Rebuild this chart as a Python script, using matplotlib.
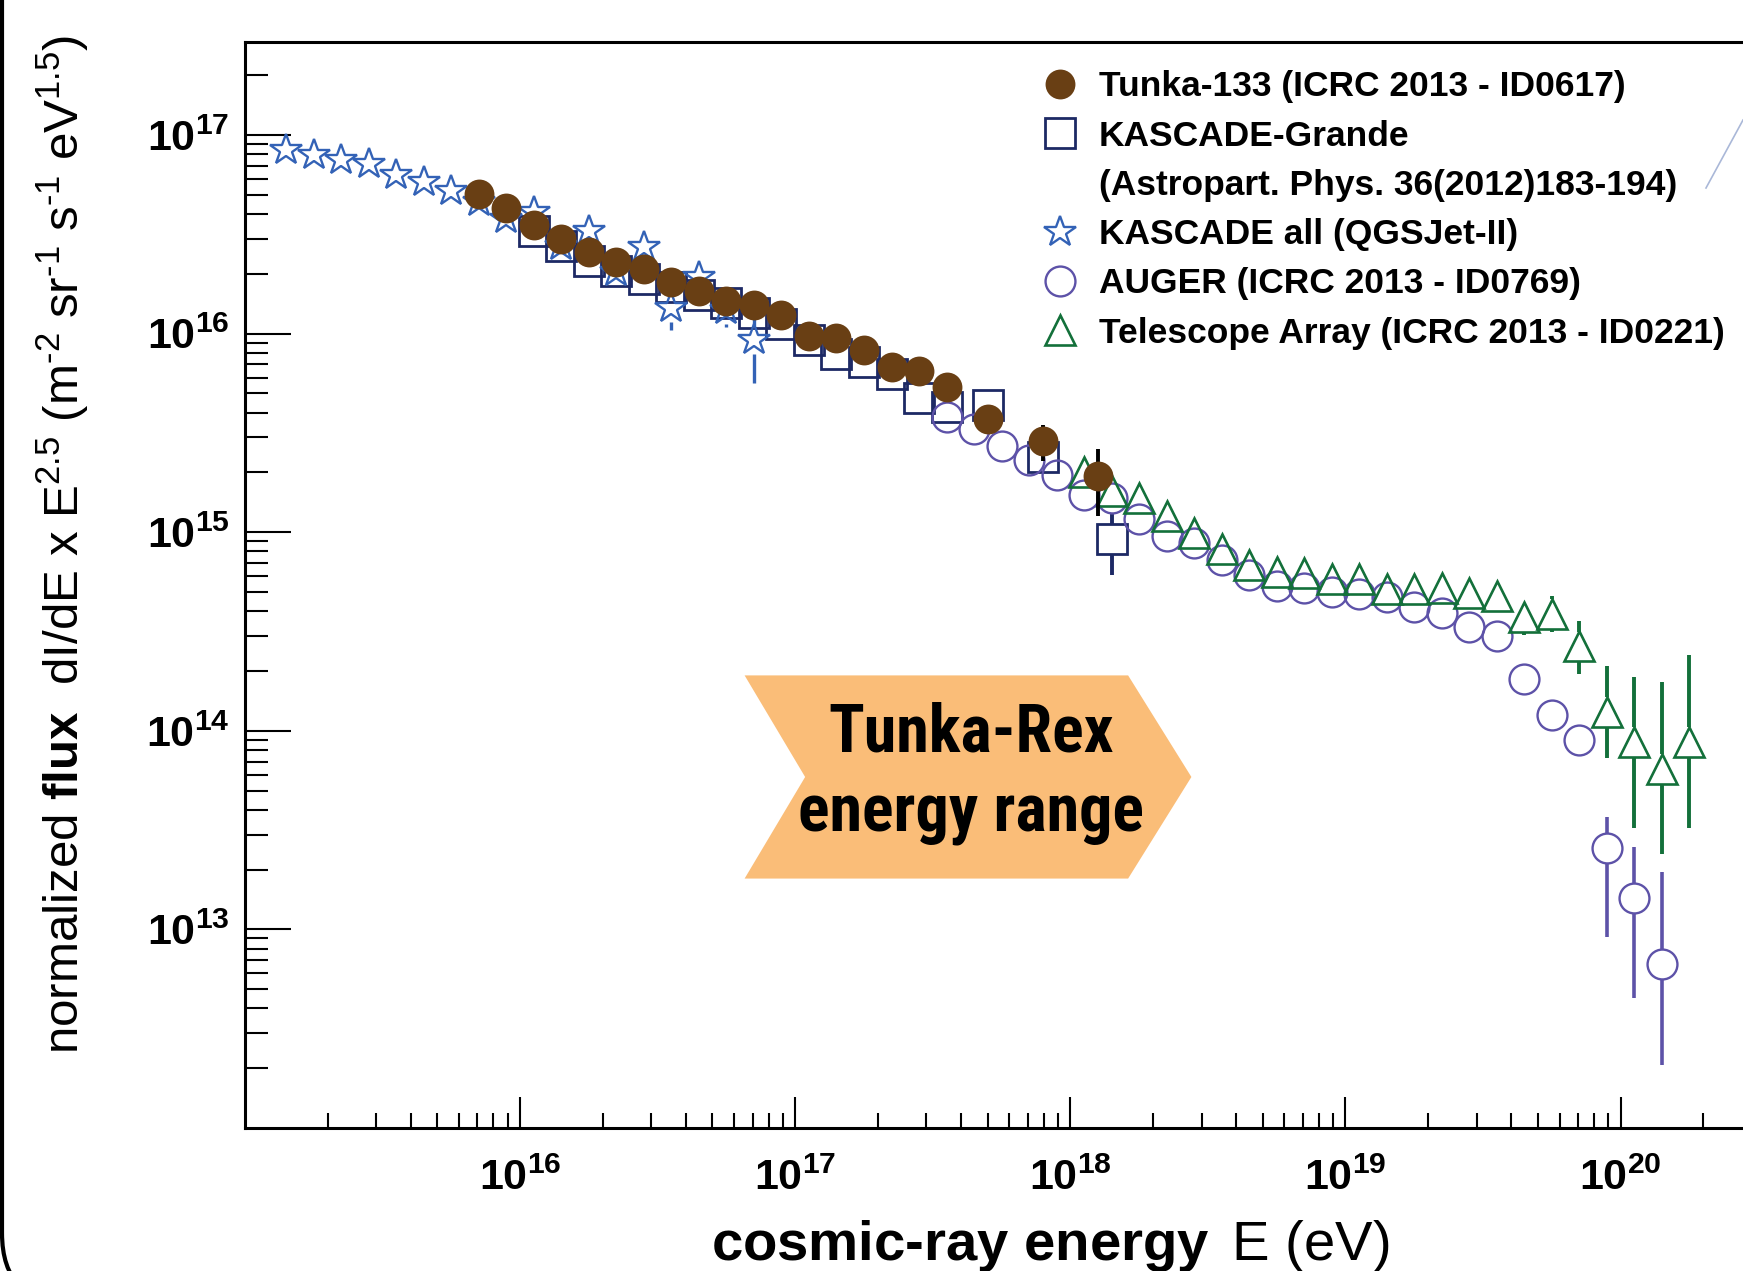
import matplotlib

matplotlib.use("Agg")
import matplotlib.font_manager as fm  # noqa: E402
import matplotlib.pyplot as plt  # noqa: E402
import numpy as np  # noqa: E402
from matplotlib.lines import Line2D  # noqa: E402
from matplotlib.patches import FancyBboxPatch, Polygon  # noqa: E402
from matplotlib.ticker import FixedLocator, FuncFormatter, LogLocator, NullFormatter  # noqa: E402

# log10 of energy (eV) and of normalized flux
tunka_logE = [15.85, 15.95, 16.05, 16.15, 16.25, 16.35, 16.45, 16.55, 16.65, 16.75, 16.85,
              16.95, 17.05, 17.15, 17.25, 17.35, 17.45, 17.55, 17.70, 17.90, 18.10]
tunka_logF = [16.702, 16.632, 16.547, 16.475, 16.413, 16.359, 16.326, 16.262, 16.215, 16.166, 16.145,
              16.092, 15.990, 15.978, 15.920, 15.834, 15.814, 15.733, 15.569, 15.458, 15.281]
tunka_err_up = [0] * 19 + [0.08, 0.14]
tunka_err_lo = [0] * 19 + [0.10, 0.20]

kg_logE = [16.05, 16.15, 16.25, 16.35, 16.45, 16.55, 16.65, 16.75, 16.85, 16.95,
           17.05, 17.15, 17.25, 17.35, 17.45, 17.55, 17.70, 17.90, 18.15]
kg_logF = [16.518, 16.443, 16.366, 16.317, 16.275, 16.234, 16.193, 16.155, 16.104, 16.046,
           15.968, 15.898, 15.858, 15.798, 15.676, 15.630, 15.643, 15.380, 14.967]
kg_err_up = [0] * 18 + [0.13]
kg_err_lo = [0] * 18 + [0.18]

kascade_logE = [15.15, 15.25, 15.35, 15.45, 15.55, 15.65, 15.75, 15.85, 15.95,
                16.05, 16.15, 16.25, 16.35, 16.45, 16.55, 16.65, 16.75, 16.85]
kascade_logF = [16.925, 16.899, 16.874, 16.854, 16.799, 16.765, 16.718, 16.664, 16.576,
                16.610, 16.441, 16.515, 16.312, 16.434, 16.128, 16.284, 16.119, 15.969]
kascade_err_up = [0] * 14 + [0.08, 0, 0.06, 0.12]
kascade_err_lo = [0] * 14 + [0.11, 0, 0.085, 0.22]

auger_logE = [17.55, 17.65, 17.75, 17.85, 17.95, 18.05, 18.15, 18.25, 18.35, 18.45, 18.55, 18.65, 18.75, 18.85,
              18.95, 19.05, 19.15, 19.25, 19.35, 19.45, 19.55, 19.65, 19.75, 19.85, 19.95, 20.05, 20.15]
auger_logF = [15.579, 15.519, 15.432, 15.365, 15.286, 15.189, 15.172, 15.068, 14.982, 14.945, 14.858, 14.786,
              14.731, 14.719, 14.699, 14.691, 14.672, 14.623, 14.593, 14.523, 14.476, 14.262, 14.082, 13.956,
              13.408, 13.156, 12.827]
auger_err_up = [0] * 24 + [0.16, 0.26, 0.46]
auger_err_lo = [0] * 24 + [0.445, 0.50, 0.51]

ta_logE = [18.05, 18.15, 18.25, 18.35, 18.45, 18.55, 18.65, 18.75, 18.85, 18.95, 19.05, 19.15,
           19.25, 19.35, 19.45, 19.55, 19.65, 19.75, 19.85, 19.95, 20.05, 20.15, 20.25]
ta_logF = [15.302, 15.210, 15.170, 15.084, 14.996, 14.917, 14.835, 14.799, 14.796, 14.762, 14.766, 14.713,
           14.716, 14.719, 14.696, 14.677, 14.573, 14.590, 14.425, 14.094, 13.943, 13.808, 13.943]
ta_err_up = [0] * 17 + [0.09, 0.13, 0.23, 0.33, 0.44, 0.44]
ta_err_lo = [0] * 16 + [0.09, 0.09, 0.14, 0.23, 0.43, 0.43, 0.43]

# Tunka-Rex energy range (log10 eV) and the vertical extent of the arrow (log10 flux)
rex_logE = (16.816, 18.21)
rex_arrow_depth = 0.23
rex_logF = (13.256, 14.279)

legend_labels = [
    "Tunka-133 (ICRC 2013 - ID0617)",
    "KASCADE-Grande",
    "(Astropart. Phys. 36(2012)183-194)",
    "KASCADE all (QGSJet-II)",
    "AUGER (ICRC 2013 - ID0769)",
    "Telescope Array (ICRC 2013 - ID0221)",
]

X_LIM = (1e15, 10 ** 20.445)
Y_LIM = (1e12, 2.93e17)

BROWN = "#693f14"
NAVY = "#1d2965"
BLUE = "#3362b6"
PURPLE = "#5d52a8"
GREEN = "#13703a"
ORANGE = "#fabd78"

plt.rcParams["font.family"] = ["Liberation Sans", "DejaVu Sans"]
plt.rcParams["mathtext.fontset"] = "custom"
plt.rcParams["mathtext.rm"] = "Liberation Sans"
plt.rcParams["mathtext.bf"] = "Liberation Sans:bold"
plt.rcParams["mathtext.it"] = "Liberation Sans:italic"
plt.rcParams["mathtext.sf"] = "Liberation Sans"
plt.rcParams["mathtext.default"] = "rm"


def _condensed_bold(size):
    """A narrow bold face for the Tunka-Rex label, if one is installed."""
    names = {f.name for f in fm.fontManager.ttflist}
    for name in ("Liberation Sans Narrow", "Arial Narrow", "Roboto Condensed", "Open Sans Condensed",
                 "Noto Sans Condensed", "DejaVu Sans Condensed"):
        if name in names:
            return fm.FontProperties(family=name, weight="bold", size=size)
    for f in fm.fontManager.ttflist:
        if f.stretch in ("condensed", "semi-condensed", "extra-condensed") and str(f.weight) in ("bold", "700"):
            return fm.FontProperties(fname=f.fname, size=size)
    return None


def _bars(ax, logE, logF, up, lo, gap, color, lw, z):
    # ROOT style: the bar stops at the edge of an open marker
    e = 10 ** np.asarray(logE, float)
    f = np.asarray(logF, float)
    up = np.asarray(up, float)
    lo = np.asarray(lo, float)
    m = up > gap
    ax.vlines(e[m], 10 ** (f[m] + gap), 10 ** (f[m] + up[m]), colors=color, lw=lw, zorder=z)
    m = lo > gap
    ax.vlines(e[m], 10 ** (f[m] - lo[m]), 10 ** (f[m] - gap), colors=color, lw=lw, zorder=z)


fig = plt.figure(figsize=(17.43, 12.71), dpi=100)
ax = fig.add_axes([245 / 1743, 1 - 1128 / 1271, 1 - 245 / 1743, (1128 - 42.3) / 1271])
ax.set_xscale("log")
ax.set_yscale("log")
ax.set_xlim(*X_LIM)
ax.set_ylim(*Y_LIM)

# Tunka-Rex arrow
lo_e, hi_e = rex_logE
lo_f, hi_f = rex_logF
mid_f = (lo_f + hi_f) / 2
arrow = np.array([
    (lo_e, hi_f), (hi_e, hi_f), (hi_e + rex_arrow_depth, mid_f),
    (hi_e, lo_f), (lo_e, lo_f), (lo_e + rex_arrow_depth - 0.01, mid_f),
])
ax.add_patch(Polygon(10 ** arrow, closed=True, facecolor=ORANGE, edgecolor="none", zorder=1))
rex_prop = _condensed_bold(47.5)
if rex_prop is None:
    rex_prop = fm.FontProperties(family="Liberation Sans", weight="bold", size=39)
ax.text(10 ** ((lo_e + hi_e + rex_arrow_depth) / 2 + 0.01), 10 ** (mid_f + 0.015), "Tunka-Rex\nenergy range",
        ha="center", va="center", fontproperties=rex_prop,
        linespacing=80 / (0.92 * rex_prop.get_size_in_points() * 100 / 72), zorder=2)

# data
MS = 21.5
_bars(ax, kg_logE, kg_logF, kg_err_up, kg_err_lo, 0.075, NAVY, 2.8, 3)
ax.plot(10 ** np.array(kg_logE), 10 ** np.array(kg_logF), ls="none", marker="s", ms=MS,
        mfc="none", mec=NAVY, mew=2.0, zorder=3)
_bars(ax, kascade_logE, kascade_logF, kascade_err_up, kascade_err_lo, 0.07, BLUE, 2.4, 4)
ax.plot(10 ** np.array(kascade_logE), 10 ** np.array(kascade_logF), ls="none", marker="*", ms=MS + 2,
        mfc="none", mec=BLUE, mew=1.7, zorder=4)
_bars(ax, auger_logE, auger_logF, auger_err_up, auger_err_lo, 0.075, PURPLE, 2.6, 5)
ax.plot(10 ** np.array(auger_logE), 10 ** np.array(auger_logF), ls="none", marker="o", ms=MS,
        mfc="none", mec=PURPLE, mew=1.7, zorder=5)
_bars(ax, ta_logE, ta_logF, ta_err_up, ta_err_lo, 0.075, GREEN, 2.8, 6)
ax.plot(10 ** np.array(ta_logE), 10 ** np.array(ta_logF), ls="none", marker="^", ms=MS,
        mfc="none", mec=GREEN, mew=1.9, zorder=6)
_bars(ax, tunka_logE, tunka_logF, tunka_err_up, tunka_err_lo, 0.0, "black", 2.8, 7)
ax.plot(10 ** np.array(tunka_logE), 10 ** np.array(tunka_logF), ls="none", marker="o", ms=MS,
        mfc=BROWN, mec=BROWN, mew=0, zorder=8)

# axes, ticks
for side in ("left", "bottom", "top"):
    ax.spines[side].set_linewidth(2.2)
ax.spines["right"].set_visible(False)

fmt = FuncFormatter(lambda v, pos: r"$\mathbf{10^{%d}}$" % round(np.log10(v)))
ax.xaxis.set_major_locator(FixedLocator([1e16, 1e17, 1e18, 1e19, 1e20]))
ax.yaxis.set_major_locator(FixedLocator([1e13, 1e14, 1e15, 1e16, 1e17]))
for axis in (ax.xaxis, ax.yaxis):
    axis.set_major_formatter(fmt)
    axis.set_minor_locator(LogLocator(base=10, subs=np.arange(2, 10), numticks=100))
    axis.set_minor_formatter(NullFormatter())
ax.tick_params(which="both", direction="in", top=False, right=False, width=1.5, labelsize=31)
ax.tick_params(axis="y", which="major", length=33, pad=11)
ax.tick_params(axis="y", which="minor", length=16.5)
ax.tick_params(axis="x", which="major", length=22, pad=22)
ax.tick_params(axis="x", which="minor", length=11)

ax.set_xlabel(r"cosmic-ray energy $\mathrm{\,E\ (eV)}$", fontsize=40.5, weight="bold")
ax.xaxis.label.set_va("baseline")
ax.xaxis.set_label_coords((1050 - 245) / 1498, -(1260 - 1128) / 1085.7)

ax.set_ylabel(r"normalized $\mathbf{flux}$  dI/dE x E$^{2.5}$ (m$^{\text{-}2}$ sr$^{\text{-}1}$ "
              r"s$^{\text{-}1}$ eV$^{1.5}$)", fontsize=35.5)
ax.yaxis.label.set_va("baseline")
ax.yaxis.set_label_coords((78.5 - 245) / 1498, (1128 - 544.5) / 1085.7)

# legend
handles = [
    Line2D([], [], ls="none", marker="o", ms=MS, mfc=BROWN, mec=BROWN, mew=0),
    Line2D([], [], ls="none", marker="s", ms=MS, mfc="none", mec=NAVY, mew=2.0),
    Line2D([], [], ls="none", marker="none"),
    Line2D([], [], ls="none", marker="*", ms=MS + 2, mfc="none", mec=BLUE, mew=1.7),
    Line2D([], [], ls="none", marker="o", ms=MS, mfc="none", mec=PURPLE, mew=1.7),
    Line2D([], [], ls="none", marker="^", ms=MS, mfc="none", mec=GREEN, mew=1.9),
]
ax.legend(handles, legend_labels, loc="upper left", bbox_to_anchor=(0.5325, 0.9742),
          frameon=False, borderpad=0, borderaxespad=0, handlelength=1.0, handletextpad=0.58,
          labelspacing=0.46, prop=dict(family="Liberation Sans", weight="bold", size=25.5))

# slide frame and stray line from the source slide
fig.add_artist(FancyBboxPatch((0.02, -0.33), 30, 30, boxstyle="round,pad=0,rounding_size=0.71",
                              transform=fig.dpi_scale_trans, fill=False, ec="black", lw=3))
fig.add_artist(Line2D([1706 / 1743, 1.0], [1 - 188 / 1271, 1 - 120 / 1271], transform=fig.transFigure,
                      color="#aab8d8", lw=1.2))

fig.savefig("out.png", dpi=100, facecolor="white")
